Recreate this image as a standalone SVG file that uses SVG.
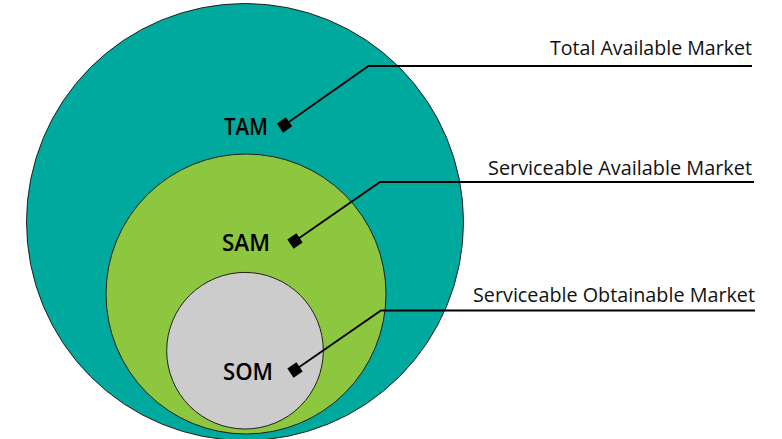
<svg xmlns="http://www.w3.org/2000/svg" width="782" height="439" viewBox="0 0 782 439">
  <style>
    .circ { stroke: #231f20; stroke-width: 1; }
    .lead { fill: none; stroke: #000; stroke-width: 1.8; }
    .big { font-family: "Open Sans", "Liberation Sans", sans-serif; font-weight: 600; font-size: 24px; fill: #000; text-anchor: middle; }
    .lbl { font-family: "Open Sans", "Liberation Sans", sans-serif; font-size: 19.5px; fill: #111; text-anchor: end; }
  </style>
  <defs>
    <marker id="sq" markerUnits="userSpaceOnUse" markerWidth="16" markerHeight="16" refX="8" refY="8" orient="auto">
      <rect x="2.5" y="2.5" width="11" height="11" fill="#000"/>
    </marker>
  </defs>
  <rect width="782" height="439" fill="#fff"/>
  <g id="tam">
    <circle class="circ" cx="245" cy="222" r="218.5" fill="#00a99d"/>
    <text class="big" x="246" y="135" textLength="44" lengthAdjust="spacingAndGlyphs">TAM</text>
  </g>
  <g id="sam">
    <circle class="circ" cx="246" cy="294" r="140" fill="#8dc63f"/>
    <text class="big" x="246" y="250.5" textLength="48" lengthAdjust="spacingAndGlyphs">SAM</text>
  </g>
  <g id="som">
    <circle class="circ" cx="245" cy="350.7" r="78.3" fill="#cccccc"/>
    <text class="big" x="248" y="380" textLength="50" lengthAdjust="spacingAndGlyphs">SOM</text>
  </g>
  <g id="labels">
    <text class="lbl" x="752" y="55" textLength="202" lengthAdjust="spacingAndGlyphs">Total Available Market</text>
    <text class="lbl" x="752" y="175" textLength="264" lengthAdjust="spacingAndGlyphs">Serviceable Available Market</text>
    <text class="lbl" x="755" y="301.5" textLength="282" lengthAdjust="spacingAndGlyphs">Serviceable Obtainable Market</text>
  </g>
  <g id="connectors">
    <polyline class="lead" points="284.5,125 368.5,66 752,66" marker-start="url(#sq)"/>
    <polyline class="lead" points="295,241 380,182 754,182" marker-start="url(#sq)"/>
    <polyline class="lead" points="295,370 381,310.5 755,310.5" marker-start="url(#sq)"/>
  </g>
</svg>
